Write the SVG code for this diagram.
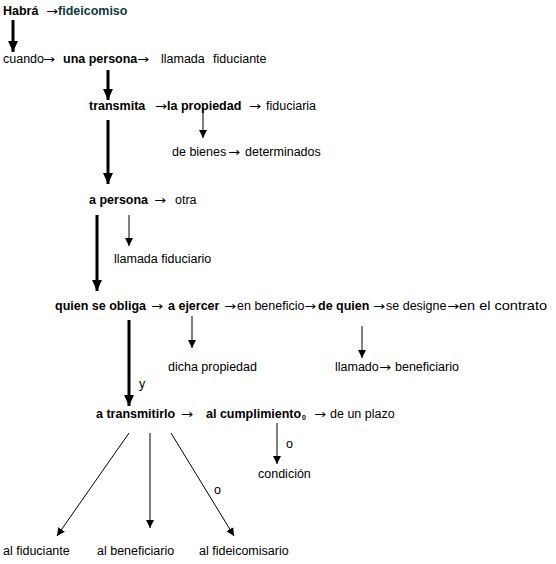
<svg xmlns="http://www.w3.org/2000/svg" width="556" height="564" viewBox="0 0 556 564">
<style>
text{font-family:"Liberation Sans",Arial,sans-serif;font-size:12.5px;fill:#000}
.b{font-weight:bold}
.teal{fill:#0b3b3b}
.ar{font-family:"DejaVu Sans","Liberation Sans",sans-serif;font-size:12px;font-weight:normal}
.thick{stroke:#000;stroke-width:3;fill:none}
.thin{stroke:#000;stroke-width:1;fill:none}
</style>
<defs>
<marker id="at" markerUnits="userSpaceOnUse" markerWidth="8" markerHeight="10" refX="8" refY="4" orient="auto" viewBox="0 0 8 8">
<path d="M0,0 L8,4 L0,8 Z" fill="#000"/>
</marker>
<marker id="aT" markerUnits="userSpaceOnUse" markerWidth="11" markerHeight="11" refX="10" refY="4.5" orient="auto" viewBox="0 0 10 9">
<path d="M0,0 L10,4.5 L0,9 Z" fill="#000"/>
</marker>
</defs>
<g id="connectors">
<line class="thick" x1="13" y1="20" x2="13" y2="52" marker-end="url(#aT)"/>
<line class="thick" x1="108" y1="70" x2="108" y2="100" marker-end="url(#aT)"/>
<line class="thin" x1="203" y1="108" x2="203" y2="138" marker-end="url(#at)"/>
<line class="thick" x1="108" y1="120" x2="108" y2="184" marker-end="url(#aT)"/>
<line class="thick" x1="97" y1="215" x2="97" y2="291" marker-end="url(#aT)"/>
<line class="thin" x1="129" y1="215" x2="129" y2="246" marker-end="url(#at)"/>
<line class="thick" x1="129" y1="320" x2="129" y2="406" marker-end="url(#aT)"/>
<line class="thin" x1="192" y1="316" x2="192" y2="348" marker-end="url(#at)"/>
<line class="thin" x1="362" y1="326" x2="362" y2="358" marker-end="url(#at)"/>
<line class="thin" x1="277" y1="423" x2="277" y2="464" marker-end="url(#at)"/>
<line class="thin" x1="129" y1="433" x2="57" y2="536" marker-end="url(#at)"/>
<line class="thin" x1="150" y1="433" x2="150" y2="528" marker-end="url(#at)"/>
<line class="thin" x1="171" y1="433" x2="234" y2="536" marker-end="url(#at)"/>
<text x="139" y="388">y</text>
<text x="286" y="448">o</text>
<text x="214" y="494">o</text>
</g>
<g id="n1"><text y="15"><tspan x="3" class="b">Habrá</tspan><tspan x="46" class="ar" textLength="12" lengthAdjust="spacingAndGlyphs">→</tspan><tspan x="58" class="b teal">fideicomiso</tspan></text></g>
<g id="n2"><text y="63"><tspan x="3">cuando</tspan><tspan x="43" class="ar" textLength="12" lengthAdjust="spacingAndGlyphs">→</tspan><tspan x="63" class="b">una persona</tspan><tspan x="137" class="ar" textLength="12" lengthAdjust="spacingAndGlyphs">→</tspan><tspan x="161">llamada</tspan><tspan x="213">fiduciante</tspan></text></g>
<g id="n3"><text y="110"><tspan x="89" class="b">transmita</tspan><tspan x="155" class="ar" textLength="12" lengthAdjust="spacingAndGlyphs">→</tspan><tspan x="167" class="b">la propiedad</tspan><tspan x="249" class="ar" textLength="12" lengthAdjust="spacingAndGlyphs">→</tspan><tspan x="266">fiduciaria</tspan></text></g>
<g id="n4"><text y="156"><tspan x="172">de bienes</tspan><tspan x="228" class="ar" textLength="12" lengthAdjust="spacingAndGlyphs">→</tspan><tspan x="245">determinados</tspan></text></g>
<g id="n5"><text y="204"><tspan x="89" class="b">a persona</tspan><tspan x="154" class="ar" textLength="12" lengthAdjust="spacingAndGlyphs">→</tspan><tspan x="175">otra</tspan></text></g>
<g id="n6"><text x="114" y="263">llamada fiduciario</text></g>
<g id="n7"><text y="310"><tspan x="55" class="b">quien se obliga</tspan><tspan x="151" class="ar" textLength="12" lengthAdjust="spacingAndGlyphs">→</tspan><tspan x="168" class="b">a ejercer</tspan><tspan x="224" class="ar" textLength="12" lengthAdjust="spacingAndGlyphs">→</tspan><tspan x="237">en beneficio</tspan><tspan x="304" class="ar" textLength="12" lengthAdjust="spacingAndGlyphs">→</tspan><tspan x="318" class="b">de quien</tspan><tspan x="373" class="ar" textLength="12" lengthAdjust="spacingAndGlyphs">→</tspan><tspan x="386">se designe</tspan><tspan x="447" class="ar" textLength="12" lengthAdjust="spacingAndGlyphs">→</tspan><tspan x="459" font-size="13" textLength="88" lengthAdjust="spacingAndGlyphs">en el contrato</tspan></text></g>
<g id="n8"><text x="168" y="371">dicha propiedad</text></g>
<g id="n9"><text y="371"><tspan x="335">llamado</tspan><tspan x="379" class="ar" textLength="12" lengthAdjust="spacingAndGlyphs">→</tspan><tspan x="395">beneficiario</tspan></text></g>
<g id="n10"><text y="418"><tspan x="96" class="b">a transmitirlo</tspan><tspan x="181" class="ar" textLength="12" lengthAdjust="spacingAndGlyphs">→</tspan><tspan x="206" class="b">al cumplimiento</tspan><tspan x="302" dy="2" class="b" font-size="7">0</tspan><tspan x="314" dy="-2" class="ar" textLength="12" lengthAdjust="spacingAndGlyphs">→</tspan><tspan x="330">de un plazo</tspan></text></g>
<g id="n11"><text x="258" y="478">condición</text></g>
<g id="n12"><text x="3" y="555">al fiduciante</text></g>
<g id="n13"><text x="97" y="555">al beneficiario</text></g>
<g id="n14"><text x="199" y="555">al fideicomisario</text></g>
</svg>
